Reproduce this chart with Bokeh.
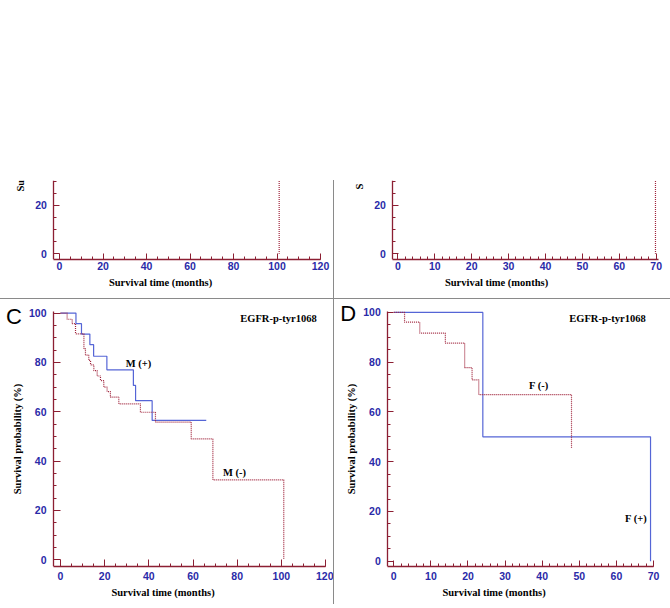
from bokeh.plotting import figure
from bokeh.layouts import column, row
from bokeh.models import Range1d, SingleIntervalTicker, Label, Spacer
from bokeh.embed import file_html
from bokeh.resources import INLINE

# ---------------- data ----------------
# Panel C (male), EGFR-p-tyr1068
c_pos_time = [0, 7, 9.5, 13.3, 15, 21, 33, 34, 41.5, 66]
c_pos_surv = [100, 95.7, 91.5, 87.2, 82.5, 77.0, 70.7, 64.5, 56.5, 56.5]
c_neg_time = [0, 3, 5.3, 6.8, 10.6, 11.3, 12.8, 13.6, 15.1, 16.6, 18.1, 19.6,
              21.1, 22.6, 26.4, 36.2, 43, 59.2, 69, 101.1]
c_neg_surv = [100, 97.5, 95.7, 91.6, 85.5, 83, 80.8, 79, 76.7, 74.5, 72.6, 70,
              68.2, 65.9, 63.2, 59.8, 55.8, 49, 32.4, 0]
# Panel D (female), EGFR-p-tyr1068
d_pos_time = [0, 24, 69.2]
d_pos_surv = [100, 50, 0]
d_neg_time = [0, 2.9, 7.0, 13.9, 19.1, 21.1, 22.9, 47.9]
d_neg_surv = [100, 96.1, 91.7, 87.7, 77.8, 72.9, 67.0, 45.5]
# Top panels (only their lower part is visible)
a_neg_time = [101, 101]
a_neg_surv = [45, 0]
b_neg_time = [69.8, 69.8]
b_neg_surv = [45, 0]

AXIS = "#8c1f33"
TICKLAB = "#2a2aa8"
BLUE = "#5565d6"
RED = "#a0243c"
SEP = "#8a8a8a"


def make_fig(w, h, xr, yr, ybounds, yaxis_at, br, bt, bb, xint, xminor,
             tick_len, lab_stand=5):
    p = figure(width=w, height=h, x_range=Range1d(*xr), y_range=Range1d(*yr),
               output_backend="svg", toolbar_location=None,
               min_border_left=0, min_border_right=br,
               min_border_top=bt, min_border_bottom=bb)
    p.grid.visible = False
    p.outline_line_color = None
    p.xaxis.ticker = SingleIntervalTicker(interval=xint, num_minor_ticks=xminor)
    p.yaxis.ticker = SingleIntervalTicker(interval=20, num_minor_ticks=4)
    p.yaxis.fixed_location = yaxis_at
    p.xaxis.bounds = (yaxis_at, xr[1])
    p.yaxis.bounds = ybounds
    for ax in (p.xaxis[0], p.yaxis[0]):
        ax.axis_line_color = AXIS
        ax.axis_line_width = 1.3
        ax.major_tick_line_color = AXIS
        ax.minor_tick_line_color = AXIS
        ax.major_tick_in = tick_len
        ax.major_tick_out = 0
        ax.minor_tick_in = 3
        ax.minor_tick_out = 0
        ax.major_label_text_color = TICKLAB
        ax.major_label_text_font = "Liberation Sans"
        ax.major_label_text_font_style = "bold"
        ax.major_label_text_font_size = "10.5px"
        ax.axis_label_text_font = "Liberation Serif"
        ax.axis_label_text_font_style = "bold"
        ax.axis_label_text_font_size = "10.5px"
        ax.axis_label_text_color = "black"
    p.xaxis.major_label_standoff = lab_stand
    p.yaxis.major_label_standoff = 7
    p.xaxis.axis_label = "Survival time (months)"
    p.xaxis.axis_label_standoff = 4
    return p


def txt(p, x, y, s, size="10.5px", font="Liberation Serif", style="bold",
        angle=0, align="center"):
    p.add_layout(Label(x=x, y=y, text=s, text_font=font, text_font_style=style,
                       text_font_size=size, text_align=align,
                       text_baseline="middle", angle=angle,
                       text_color="black"))


# ---- top-left (cropped) ----
pa = make_fig(333, 118, (-27.13, 120), (-2.36, 30.35), (-2.36, 30.35), -2.62,
              13, 0, 39, 20, 4, 6, lab_stand=2)
pa.step(a_neg_time, a_neg_surv, mode="after", line_color=RED,
        line_dash="1 1", line_width=1.2)
txt(pa, -17.93, 25.8, "Su", angle=1.5708, align="left")

# ---- top-right (cropped) ----
pb = make_fig(336, 118, (-17.18, 70.62), (-2.36, 30.35), (-2.36, 30.35), -1.38,
              12, 0, 39, 10, 5, 6, lab_stand=2)
pb.step(b_neg_time, b_neg_surv, mode="after", line_color=RED,
        line_dash="1 1", line_width=1.2)
txt(pb, -10.3, 26.6, "S", angle=1.5708, align="left")

# ---- panel C ----
pc = make_fig(333, 305, (-27.17, 120), (-2.72, 104.7), (-2.72, 100.6), -3.17,
              8, 2, 38, 20, 4, 7)
pc.yaxis.axis_label = "Survival probability (%)"
pc.yaxis.axis_label_standoff = 3
pc.step(c_pos_time, c_pos_surv, mode="after", line_color=BLUE, line_width=1.2)
pc.step(c_neg_time, c_neg_surv, mode="after", line_color=RED,
        line_dash="1 1", line_width=1.2)
txt(pc, 98.7, 97.8, "EGFR-p-tyr1068")
txt(pc, 35.3, 79.6, "M (+)")
txt(pc, 78.8, 35.4, "M (-)")
txt(pc, -21.06, 98.6, "C", size="22px", font="Liberation Sans", style="normal")

# ---- panel D ----
pd_ = make_fig(336, 305, (-15.98, 70.0), (-2.13, 104.4), (-2.13, 100.4), -1.62,
               17, 2, 38, 10, 5, 6)
pd_.yaxis.axis_label = "Survival probability (%)"
pd_.yaxis.axis_label_standoff = 3
pd_.step(d_pos_time, d_pos_surv, mode="after", line_color=BLUE, line_width=1.2)
pd_.step(d_neg_time, d_neg_surv, mode="after", line_color=RED,
         line_dash="1 1", line_width=1.2)
txt(pd_, 57.6, 97.6, "EGFR-p-tyr1068")
txt(pd_, 39.1, 70.6, "F (-)")
txt(pd_, 65.3, 17.2, "F (+)")
txt(pd_, -12.3, 99.6, "D", size="22px", font="Liberation Sans", style="normal")

top = row(pa, Spacer(width=1, height=118, styles={"background-color": SEP}), pb)
hline = Spacer(width=670, height=1, styles={"background-color": SEP})
bottom = row(pc, Spacer(width=1, height=305, styles={"background-color": SEP}), pd_)
layout = column(Spacer(width=670, height=180), top, hline, bottom)

open("out.html", "w").write(file_html(layout, INLINE))
